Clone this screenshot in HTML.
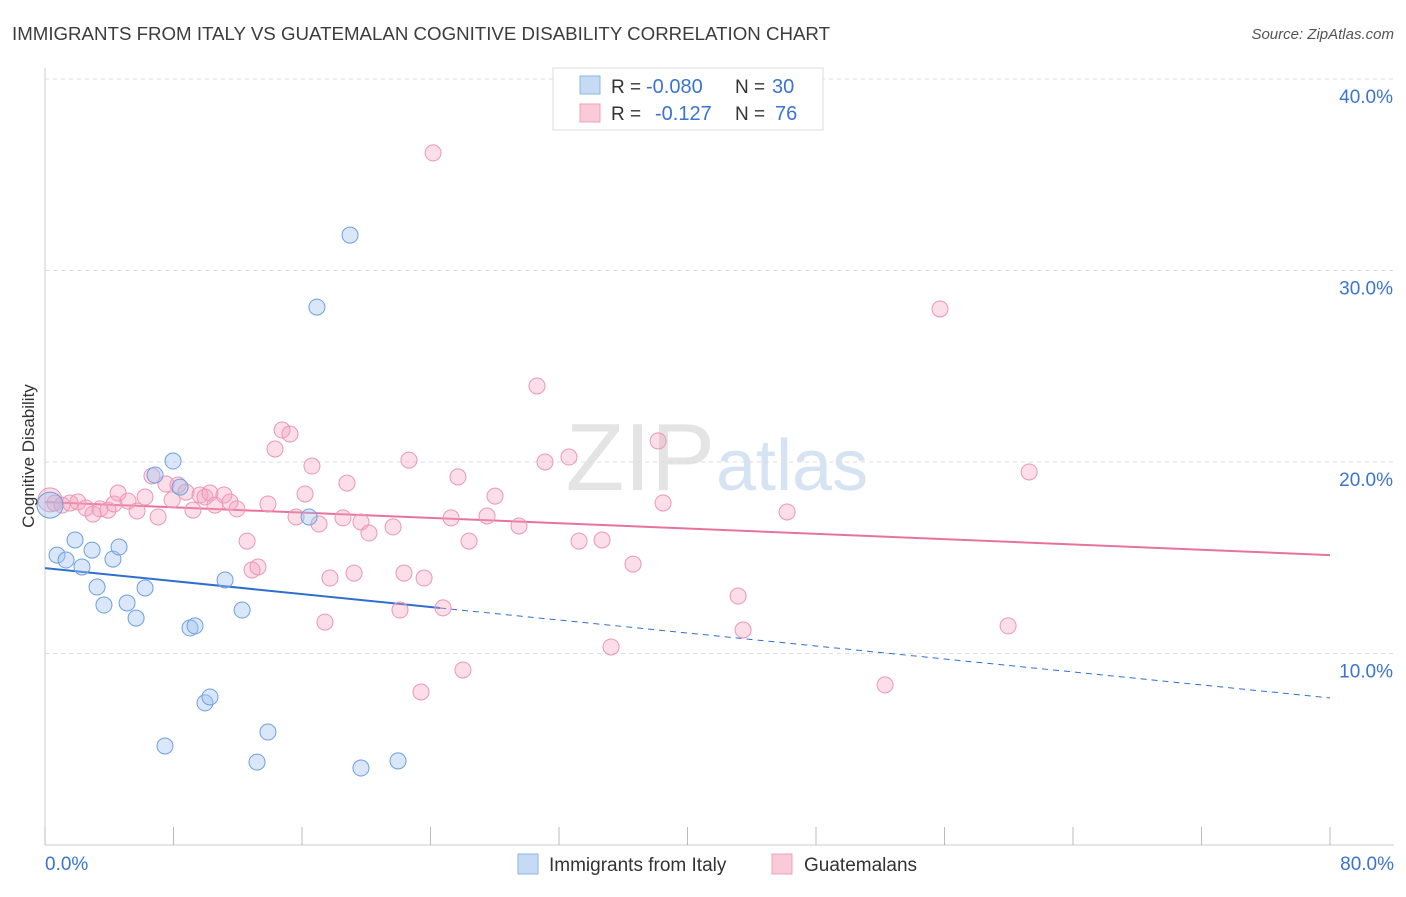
<!DOCTYPE html>
<html><head><meta charset="utf-8"><style>
body{margin:0;background:#fff;font-family:"Liberation Sans",sans-serif;}
svg text{font-family:"Liberation Sans",sans-serif;}
</style></head><body>
<svg id="chart" width="1406" height="892" viewBox="0 0 1406 892" xmlns="http://www.w3.org/2000/svg">
<text x="12" y="40" font-size="18" fill="#3c3c3c" textLength="818" lengthAdjust="spacingAndGlyphs">IMMIGRANTS FROM ITALY VS GUATEMALAN COGNITIVE DISABILITY CORRELATION CHART</text>
<text x="1394" y="39" font-size="15" fill="#555" text-anchor="end" font-style="italic">Source: ZipAtlas.com</text>
<text x="715" y="490" font-size="96" fill="#e4e4e4" text-anchor="end" font-family="Liberation Serif">ZIP</text>
<text x="716" y="490" font-size="72" fill="#d5e3f3">atlas</text>
<g id="grid"></g>
<g id="axes"></g>
<g id="lines"></g>
<g id="pts"></g>
<text transform="translate(34,456) rotate(-90)" font-size="17" fill="#333" text-anchor="middle">Cognitive Disability</text>
<g>
<rect x="553" y="68" width="270" height="62" fill="#fff" stroke="#ddd"/>
<rect x="580" y="76" width="20" height="18" fill="#c5daf5" stroke="#8fb4e6"/>
<rect x="580" y="104" width="20" height="18" fill="#f9cbd9" stroke="#eea0b8"/>
<text x="611" y="93" font-size="19" fill="#333">R =</text>
<text x="646" y="93" font-size="20" fill="#3a74d0">-0.080</text>
<text x="735" y="93" font-size="19" fill="#333">N =</text>
<text x="772" y="93" font-size="20" fill="#3a74d0">30</text>
<text x="611" y="120" font-size="19" fill="#333">R =</text>
<text x="655" y="120" font-size="20" fill="#3a74d0">-0.127</text>
<text x="735" y="120" font-size="19" fill="#333">N =</text>
<text x="775" y="120" font-size="20" fill="#3a74d0">76</text>
</g>
<g>
<rect x="518" y="854" width="20" height="20" fill="#c5daf5" stroke="#8fb4e6"/>
<text x="549" y="871" font-size="19" fill="#333">Immigrants from Italy</text>
<rect x="772" y="854" width="20" height="20" fill="#f9cbd9" stroke="#eea0b8"/>
<text x="804" y="871" font-size="19" fill="#333">Guatemalans</text>
</g>
</svg>
<script>
const xTickLabels=["0.0%","80.0%"];
const yTicks=[10,20,30,40];
const yTickLabels=["10.0%","20.0%","30.0%","40.0%"];
const italyX=[0.31,0.75,1.31,1.87,2.30,2.93,3.24,3.67,4.23,4.61,5.11,5.67,6.23,6.85,7.97,8.41,9.03,9.34,9.96,10.27,11.21,12.27,7.47,13.20,13.88,16.44,16.93,18.99,19.67,21.98];
const italyY=[17.75,15.14,14.88,15.93,14.52,15.40,13.47,12.53,14.93,15.56,12.64,11.85,13.42,19.32,20.05,18.69,11.33,11.44,7.42,7.73,13.84,12.27,5.17,4.33,5.90,17.13,28.09,31.85,4.02,4.39];
const guatX=[0.31,0.62,1.06,1.56,2.05,2.55,2.99,3.42,3.92,4.30,4.55,5.17,5.73,6.23,6.66,7.04,7.53,7.91,8.28,8.78,9.21,9.65,9.96,10.27,10.58,11.14,11.52,11.95,12.58,12.89,13.26,13.88,14.32,14.76,15.25,15.63,16.19,16.62,17.06,17.43,17.74,18.55,18.80,19.24,19.67,20.17,21.67,22.10,22.35,22.66,23.60,23.41,24.16,24.78,25.28,25.71,26.02,26.40,27.52,28.02,29.51,30.63,31.13,32.62,33.25,34.68,35.24,36.61,38.17,38.48,43.15,43.46,46.20,52.30,55.72,59.96,61.27];
const guatY=[18.02,17.86,17.75,17.86,17.91,17.60,17.28,17.55,17.49,17.81,18.38,17.96,17.44,18.17,19.27,17.13,18.85,18.02,18.80,18.43,17.49,18.28,18.17,18.38,17.75,18.28,17.91,17.55,15.87,14.36,14.52,17.81,20.68,21.67,21.46,17.13,18.33,19.79,16.76,11.64,13.94,17.08,18.90,14.20,16.87,16.29,16.61,12.27,14.20,20.10,13.94,7.99,36.14,12.38,17.08,19.22,9.14,15.87,17.18,18.22,16.66,23.97,20.00,20.26,15.87,15.93,10.34,14.67,21.10,17.86,13.00,11.23,17.39,8.36,27.99,11.44,19.48];
const italyTrend=[14.46,7.68];
const guatTrend=[17.91,15.14];
const italySolidEnd=24.6;
const NS="http://www.w3.org/2000/svg";
const X0=45,X1=1330,Y0=845,PX=19.15;
function sx(v){return X0+(X1-X0)*v/80;}
function sy(v){return Y0-v*PX;}
function mk(tag,attrs,parent){const e=document.createElementNS(NS,tag);for(const k in attrs)e.setAttribute(k,attrs[k]);document.getElementById(parent).appendChild(e);return e;}
yTicks.forEach((t,i)=>{
  const l=mk('line',{x1:X0,x2:1394,y1:sy(t),y2:sy(t),stroke:'#ddd','stroke-dasharray':'4,4'},'grid');
  
  
  const tx=mk('text',{x:1393,y:sy(t)+24,'font-size':19,fill:'#3a74d0','text-anchor':'end'},'axes');
  tx.textContent=yTickLabels[i];
  
  
});
mk('line',{x1:X0,x2:X0,y1:68,y2:Y0,stroke:'#ccc'},'axes');
mk('line',{x1:X0,x2:1394,y1:Y0,y2:Y0,stroke:'#ccc'},'axes');
for(let i=0;i<=10;i++){const t=mk('line',{x1:sx(i*8),x2:sx(i*8),y1:Y0-18,y2:Y0,stroke:'#bbb'},'axes');}
[[0,'start',45],[80,'end',1394]].forEach((a,i)=>{const t=mk('text',{x:a[2],y:870,'font-size':19,fill:'#3a74d0','text-anchor':a[1]},'axes');t.textContent=xTickLabels[i];});
let l1=mk('line',{x1:sx(0),y1:sy(italyTrend[0]),x2:sx(italySolidEnd),y2:sy(italyTrend[0]+(italyTrend[1]-italyTrend[0])*italySolidEnd/80),stroke:'#2f6fd0','stroke-width':2},'lines');


let l2=mk('line',{x1:sx(italySolidEnd),y1:sy(italyTrend[0]+(italyTrend[1]-italyTrend[0])*italySolidEnd/80),x2:sx(80),y2:sy(italyTrend[1]),stroke:'#2f6fd0','stroke-width':1,'stroke-dasharray':'6,5'},'lines');


let l3=mk('line',{x1:sx(0),y1:sy(guatTrend[0]),x2:sx(80),y2:sy(guatTrend[1]),stroke:'#e8739a','stroke-width':2},'lines');


guatX.forEach((v,i)=>{const c=mk('circle',{cx:sx(v),cy:sy(guatY[i]),r:i===0?12:8,fill:'rgba(244,160,188,0.35)',stroke:'#eb97b3','stroke-width':1},'pts');

});
italyX.forEach((v,i)=>{const c=mk('circle',{cx:sx(v),cy:sy(italyY[i]),r:i===0?13:8,fill:'rgba(160,196,240,0.4)',stroke:'#6e9fe0','stroke-width':1},'pts');

});
</script>
</body></html>
